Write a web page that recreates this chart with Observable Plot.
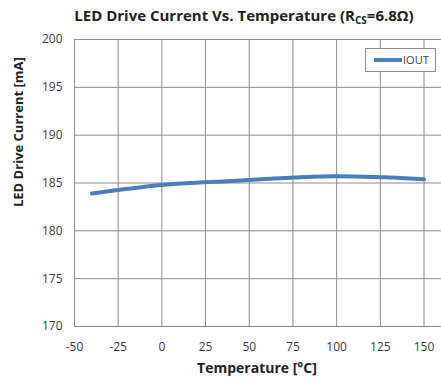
<!DOCTYPE html>
<html>
<head>
<meta charset="utf-8">
<script src="https://cdn.jsdelivr.net/npm/d3@7"></script>
<script src="https://cdn.jsdelivr.net/npm/@observablehq/plot@0.6"></script>
<style>
  body { margin: 0; background: #fff; }
  #chart svg { display: block; }
</style>
</head>
<body>
<div id="chart"></div>
<script>
const temperature = [-40, 0, 40, 100, 150];
const iout = [183.9, 184.8, 185.2, 185.7, 185.4];
const xTicks = [-50, -25, 0, 25, 50, 75, 100, 125, 150];
const yTicks = [170, 175, 180, 185, 190, 195, 200];
const seriesName = "IOUT";

const data = temperature.map((t, i) => ({t, v: iout[i]}));
const font = "'Open Sans', 'Noto Sans', sans-serif";
const fmt = d => String(d);

const plot = Plot.plot({
  width: 441,
  height: 388,
  marginLeft: 74,
  marginRight: 0,
  marginTop: 39,
  marginBottom: 62,
  style: {fontFamily: font, fontSize: "12px", color: "#404040", background: "#fff"},
  x: {domain: [-50, 160], label: null},
  y: {domain: [170, 200], label: null},
  marks: [
    Plot.gridX(xTicks, {stroke: "#8c8c8c", strokeOpacity: 1}),
    Plot.gridY(yTicks, {stroke: "#8c8c8c", strokeOpacity: 1}),
    Plot.axisX({ticks: xTicks, tickSize: 0, tickPadding: 16, tickFormat: fmt, label: null, fill: "#404040"}),
    Plot.axisY({ticks: yTicks, tickSize: 0, tickPadding: 12, tickFormat: fmt, label: null, fill: "#404040"}),
    Plot.line(data, {x: "t", y: "v", stroke: "#4a7ebb", strokeWidth: 4, curve: "monotone-x"}),
    Plot.text(["LED Drive Current [mA]"], {frameAnchor: "left", dx: -56, dy: 24, rotate: -90, fontWeight: "bold", fontSize: 13, fill: "#222"}),
    Plot.text(["Temperature [\u00B0C]"], {frameAnchor: "bottom", dy: 46, dx: -1, fontWeight: "bold", fontSize: 14, fill: "#222"})
  ]
});

document.getElementById("chart").appendChild(plot);

const svg = d3.select(plot);
const title = svg.append("text")
  .attr("x", 244).attr("y", 21)
  .attr("text-anchor", "middle")
  .attr("font-family", font).attr("font-weight", "bold").attr("font-size", 15)
  .attr("fill", "#222");
title.append("tspan").text("LED Drive Current Vs. Temperature (R");
title.append("tspan").attr("font-size", 10).attr("dy", 3).text("CS");
title.append("tspan").attr("dy", -3).text("=6.8\u03A9)");

// legend
const lg = svg.append("g");
lg.append("rect").attr("x", 365.5).attr("y", 48.5).attr("width", 70).attr("height", 23)
  .attr("fill", "#fff").attr("stroke", "#8c8c8c");
lg.append("line").attr("x1", 374).attr("x2", 402).attr("y1", 60).attr("y2", 60)
  .attr("stroke", "#4a7ebb").attr("stroke-width", 4);
lg.append("text").attr("x", 403).attr("y", 64).attr("text-anchor", "start").text(seriesName)
  .attr("font-family", font).attr("font-size", 11).attr("fill", "#404040");
</script>
</body>
</html>
